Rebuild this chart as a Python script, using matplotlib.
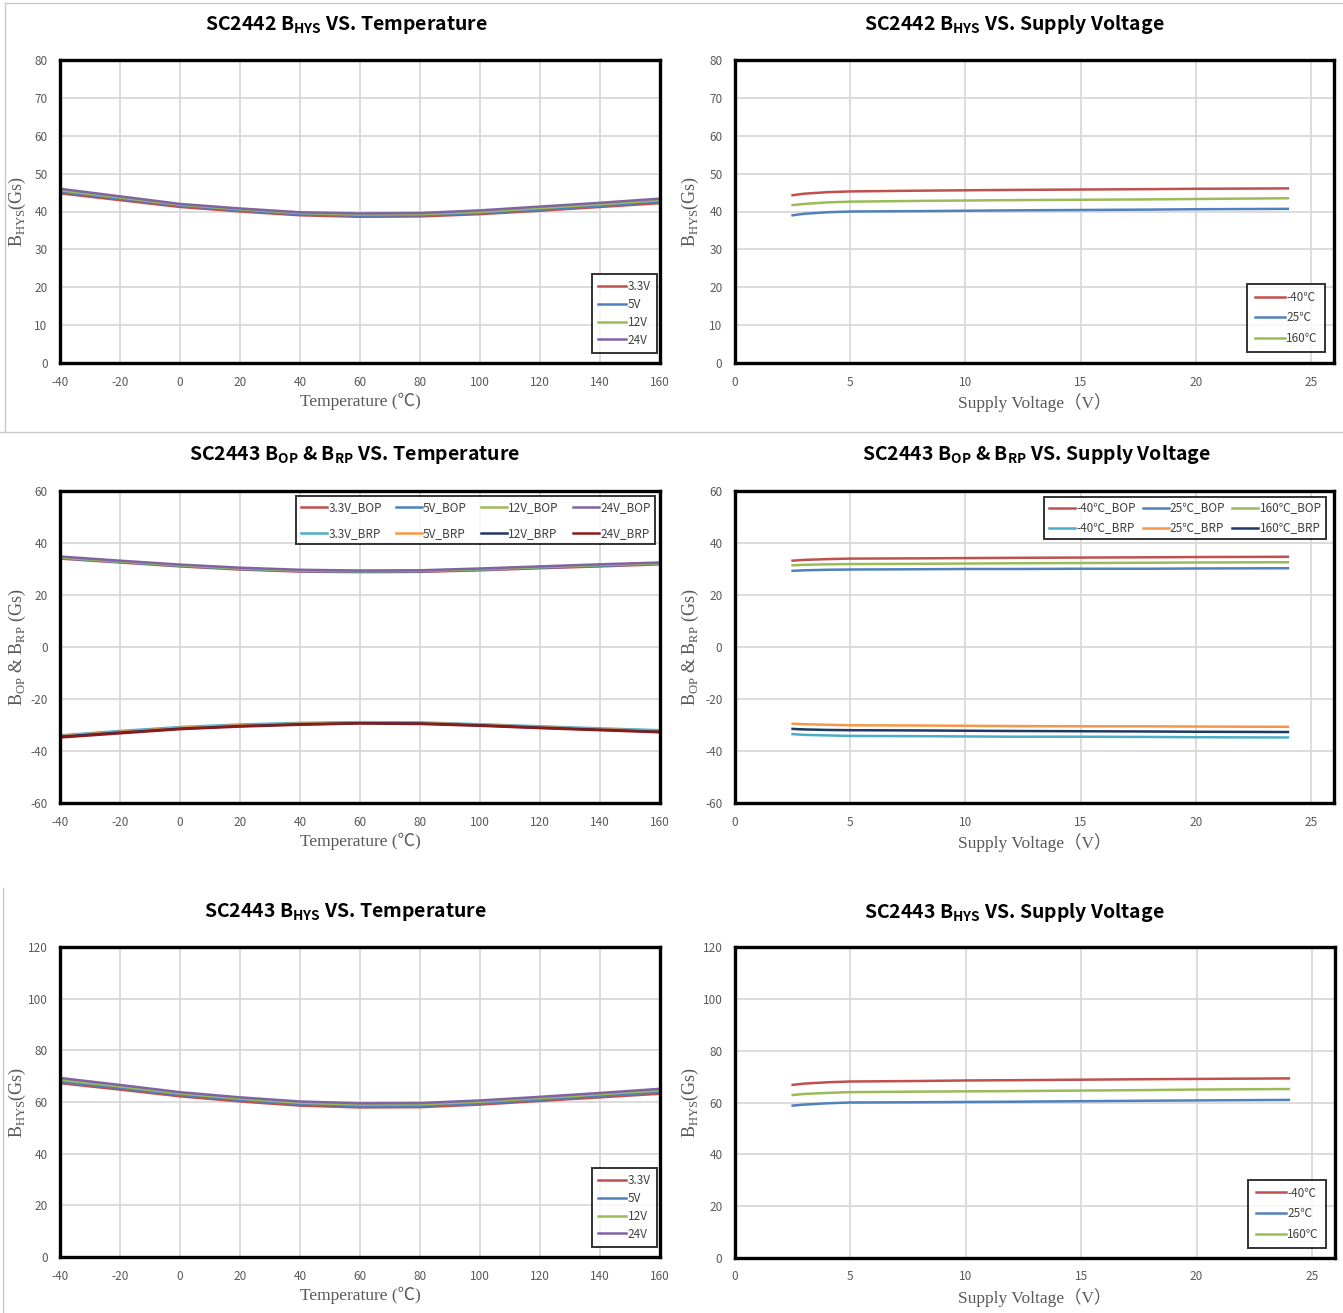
#!/usr/bin/env python3
"""
SC2442 / SC2443 magnetic characteristics - six panel datasheet figure
"""

import matplotlib
matplotlib.use('Agg')
import matplotlib.pyplot as plt
from matplotlib.lines import Line2D

# ---- data -------------------------------------------------------------
temps = [-40, -20, 0, 20, 40, 60, 80, 100, 120, 140, 160]
volts = [2.5, 3, 4, 5, 8, 10, 12, 15, 18, 20, 24]

# SC2442 BHYS vs temperature (Gs)
sc2442_hys_t_33v = [44.8, 43.0, 41.2, 40.0, 39.0, 38.6, 38.7, 39.3, 40.2, 41.2, 42.2]
sc2442_hys_t_5v = [45.2, 43.4, 41.6, 40.3, 39.3, 38.9, 39.0, 39.6, 40.5, 41.5, 42.6]
sc2442_hys_t_12v = [45.6, 43.7, 41.8, 40.6, 39.6, 39.2, 39.3, 39.9, 40.9, 41.9, 43.0]
sc2442_hys_t_24v = [46.0, 44.0, 42.0, 40.8, 39.8, 39.5, 39.6, 40.3, 41.3, 42.3, 43.4]

# SC2442 BHYS vs supply voltage (Gs)
sc2442_hys_v_m40 = [44.3, 44.7, 45.1, 45.3, 45.5, 45.6, 45.7, 45.8, 45.9, 46.0, 46.1]
sc2442_hys_v_25 = [39.0, 39.4, 39.8, 40.0, 40.1, 40.2, 40.3, 40.4, 40.5, 40.6, 40.7]
sc2442_hys_v_160 = [41.7, 42.0, 42.4, 42.6, 42.8, 42.9, 43.0, 43.1, 43.2, 43.3, 43.5]

# SC2443 BOP / BRP vs temperature (Gs)
sc2443_op_t_33v = [34.0, 32.5, 31.0, 29.8, 29.0, 28.8, 28.9, 29.5, 30.3, 31.0, 31.8]
sc2443_op_t_5v = [34.2, 32.7, 31.2, 30.0, 29.2, 29.0, 29.1, 29.7, 30.5, 31.2, 32.0]
sc2443_op_t_12v = [34.4, 32.9, 31.4, 30.2, 29.4, 29.2, 29.3, 29.9, 30.7, 31.5, 32.2]
sc2443_op_t_24v = [34.8, 33.2, 31.7, 30.5, 29.7, 29.4, 29.5, 30.2, 31.0, 31.8, 32.5]
sc2443_rp_t_33v = [-34.0, -32.3, -30.8, -29.8, -29.2, -28.9, -29.0, -29.7, -30.5, -31.3, -32.0]
sc2443_rp_t_5v = [-34.3, -32.6, -31.1, -30.1, -29.5, -29.1, -29.2, -29.9, -30.8, -31.6, -32.3]
sc2443_rp_t_12v = [-34.5, -32.9, -31.4, -30.4, -29.7, -29.3, -29.4, -30.1, -31.0, -31.8, -32.6]
sc2443_rp_t_24v = [-34.8, -33.2, -31.6, -30.6, -29.9, -29.4, -29.6, -30.3, -31.2, -32.0, -32.8]

# SC2443 BOP / BRP vs supply voltage (Gs)
sc2443_op_v_m40 = [33.2, 33.5, 33.8, 34.0, 34.1, 34.2, 34.3, 34.4, 34.5, 34.6, 34.7]
sc2443_op_v_25 = [29.3, 29.5, 29.7, 29.8, 29.9, 30.0, 30.0, 30.1, 30.1, 30.2, 30.3]
sc2443_op_v_160 = [31.4, 31.6, 31.8, 31.9, 32.0, 32.1, 32.2, 32.3, 32.4, 32.5, 32.6]
sc2443_rp_v_m40 = [-33.5, -33.8, -34.0, -34.2, -34.3, -34.4, -34.5, -34.5, -34.6, -34.7, -34.8]
sc2443_rp_v_25 = [-29.5, -29.7, -29.9, -30.1, -30.2, -30.3, -30.4, -30.5, -30.5, -30.6, -30.7]
sc2443_rp_v_160 = [-31.5, -31.7, -31.9, -32.0, -32.1, -32.2, -32.3, -32.4, -32.5, -32.6, -32.7]

# SC2443 BHYS vs temperature (Gs)
sc2443_hys_t_33v = [67.3, 64.8, 62.2, 60.2, 58.6, 57.9, 58.0, 59.0, 60.4, 61.8, 63.2]
sc2443_hys_t_5v = [67.9, 65.4, 62.8, 60.8, 59.2, 58.4, 58.5, 59.5, 60.9, 62.4, 63.8]
sc2443_hys_t_12v = [68.6, 66.0, 63.3, 61.3, 59.7, 59.0, 59.1, 60.1, 61.5, 63.0, 64.5]
sc2443_hys_t_24v = [69.3, 66.6, 63.8, 61.8, 60.2, 59.5, 59.6, 60.6, 62.0, 63.5, 65.1]

# SC2443 BHYS vs supply voltage (Gs)
sc2443_hys_v_m40 = [66.8, 67.3, 67.8, 68.1, 68.3, 68.5, 68.6, 68.8, 69.0, 69.1, 69.3]
sc2443_hys_v_25 = [58.8, 59.2, 59.7, 60.0, 60.1, 60.2, 60.3, 60.5, 60.7, 60.8, 61.0]
sc2443_hys_v_160 = [62.9, 63.3, 63.7, 64.0, 64.2, 64.3, 64.4, 64.6, 64.8, 65.0, 65.2]

volt_labels = ['3.3V', '5V', '12V', '24V']
temp_labels = ['-40\u2103', '25\u2103', '160\u2103']

# ---- style ------------------------------------------------------------
RED, BLUE, GREEN, PURPLE = '#C0504D', '#4F81BD', '#9BBB59', '#8064A2'
CYAN, ORANGE, NAVY, DARKRED = '#4BACC6', '#F79646', '#1F3864', '#8B1A1A'
GRID = '#D9D9D9'
TICK = '#595959'
NARROW = ['Noto Sans CJK SC', 'DejaVu Sans']
SERIF = ['Liberation Serif', 'Noto Sans CJK SC', 'DejaVu Serif']

plt.rcParams['axes.unicode_minus'] = False

W, H = 1343, 1313


def px_axes(fig, x0, y0, x1, y1):
    return fig.add_axes([x0 / W, 1 - y1 / H, (x1 - x0) / W, (y1 - y0) / H])


def style_axes(ax, xlim, ylim, xticks, yticks, xlabel, ylabel, ylab_x):
    ax.set_xlim(*xlim)
    ax.set_ylim(*ylim)
    ax.set_xticks(xticks)
    ax.set_yticks(yticks)
    ax.grid(True, color=GRID, lw=1.3)
    ax.set_axisbelow(True)
    for sp in ax.spines.values():
        sp.set_linewidth(2.4)
        sp.set_color('black')
    ax.tick_params(length=0, pad=9, labelcolor=TICK)
    for lab in ax.get_xticklabels() + ax.get_yticklabels():
        lab.set_family(NARROW)
        lab.set_fontsize(8.5)
    ax.set_xlabel(xlabel, family=SERIF, fontsize=12.5, color=TICK, labelpad=3)
    ax.set_ylabel(ylabel, family=SERIF, fontsize=13, color=TICK)
    ax.yaxis.set_label_coords(ylab_x, 0.5)


def add_legend(ax, handles, labels, loc, anchor, ncol=1, **kw):
    leg = ax.legend(handles, labels, loc=loc, bbox_to_anchor=anchor, ncol=ncol,
                    frameon=True, fancybox=False, borderaxespad=0,
                    prop={'family': NARROW, 'size': 8.5}, labelcolor='#404040',
                    handletextpad=0.1, **kw)
    leg.get_frame().set_edgecolor('black')
    leg.get_frame().set_linewidth(1.4)
    return leg


def title(fig, x, y, text):
    fig.text(x / W, 1 - y / H, text, ha='center', va='center', fontsize=14,
             fontweight='bold', family=NARROW)


fig = plt.figure(figsize=(W / 100, H / 100), dpi=100)

temp_xt = list(range(-40, 161, 20))
volt_xt = [0, 5, 10, 15, 20, 25]
ylab_hys = 'B$_{\\mathregular{HYS}}$(Gs)'
ylab_oprp = 'B$_{\\mathregular{OP}}$ & B$_{\\mathregular{RP}}$ (Gs)'
xlab_t = 'Temperature (\u2103)'
xlab_v = 'Supply Voltage\uff08V\uff09'
LEFT_YL = -0.054
RIGHT_YL = -0.056

# ---- row 1: SC2442 BHYS ----------------------------------------------
ax = px_axes(fig, 60, 60, 660, 363)
series = [sc2442_hys_t_33v, sc2442_hys_t_5v, sc2442_hys_t_12v, sc2442_hys_t_24v]
hs = [ax.plot(temps, s, color=c, lw=1.8)[0] for s, c in zip(series, [RED, BLUE, GREEN, PURPLE])]
style_axes(ax, (-40, 160), (0, 80), temp_xt, range(0, 81, 10), xlab_t, ylab_hys, LEFT_YL)
add_legend(ax, hs, volt_labels, 'lower right', (0.995, 0.033), labelspacing=0.4,
           handlelength=2.4, borderpad=0.55)
title(fig, 346, 25, 'SC2442 B$_{\\mathregular{HYS}}$ VS. Temperature')

ax = px_axes(fig, 735, 60, 1334, 363)
series = [sc2442_hys_v_m40, sc2442_hys_v_25, sc2442_hys_v_160]
hs = [ax.plot(volts, s, color=c, lw=1.8)[0] for s, c in zip(series, [RED, BLUE, GREEN])]
style_axes(ax, (0, 26), (0, 80), volt_xt, range(0, 81, 10), xlab_v, ylab_hys, RIGHT_YL)
add_legend(ax, hs, temp_labels, 'lower right', (0.985, 0.036), labelspacing=0.65,
           handlelength=2.6, borderpad=0.6)
title(fig, 1014, 25, 'SC2442 B$_{\\mathregular{HYS}}$ VS. Supply Voltage')

# ---- row 2: SC2443 BOP & BRP -------------------------------------------
ax = px_axes(fig, 60, 491, 660, 803)
op = [sc2443_op_t_33v, sc2443_op_t_5v, sc2443_op_t_12v, sc2443_op_t_24v]
rp = [sc2443_rp_t_33v, sc2443_rp_t_5v, sc2443_rp_t_12v, sc2443_rp_t_24v]
hs, ls = [], []
for s_op, s_rp, c_op, c_rp, v in zip(op, rp, [RED, BLUE, GREEN, PURPLE],
                                     [CYAN, ORANGE, NAVY, DARKRED], volt_labels):
    hs.append(ax.plot(temps, s_op, color=c_op, lw=1.8)[0])
    ls.append(v + '_BOP')
    hs.append(ax.plot(temps, s_rp, color=c_rp, lw=1.8)[0])
    ls.append(v + '_BRP')
style_axes(ax, (-40, 160), (-60, 60), temp_xt, range(-60, 61, 20), xlab_t, ylab_oprp, LEFT_YL)
add_legend(ax, hs, ls, 'upper right', (0.992, 0.984), ncol=4, labelspacing=1.1,
           columnspacing=1.2, handlelength=2.2)
title(fig, 355, 455, 'SC2443 B$_{\\mathregular{OP}}$ & B$_{\\mathregular{RP}}$ VS. Temperature')

ax = px_axes(fig, 735, 491, 1334, 803)
op = [sc2443_op_v_m40, sc2443_op_v_25, sc2443_op_v_160]
rp = [sc2443_rp_v_m40, sc2443_rp_v_25, sc2443_rp_v_160]
hs, ls = [], []
for s_op, s_rp, c_op, c_rp, t in zip(op, rp, [RED, BLUE, GREEN], [CYAN, ORANGE, NAVY],
                                     temp_labels):
    hs.append(ax.plot(volts, s_op, color=c_op, lw=1.8)[0])
    ls.append(t + '_BOP')
    hs.append(ax.plot(volts, s_rp, color=c_rp, lw=1.8)[0])
    ls.append(t + '_BRP')
style_axes(ax, (0, 26), (-60, 60), volt_xt, range(-60, 61, 20), xlab_v, ylab_oprp, RIGHT_YL)
add_legend(ax, hs, ls, 'upper right', (0.987, 0.981), ncol=3, labelspacing=0.6,
           columnspacing=0.6, handlelength=2.2)
title(fig, 1037, 455, 'SC2443 B$_{\\mathregular{OP}}$ & B$_{\\mathregular{RP}}$ VS. Supply Voltage')

# ---- row 3: SC2443 BHYS ----------------------------------------------
ax = px_axes(fig, 60, 947, 660, 1257)
series = [sc2443_hys_t_33v, sc2443_hys_t_5v, sc2443_hys_t_12v, sc2443_hys_t_24v]
hs = [ax.plot(temps, s, color=c, lw=1.8)[0] for s, c in zip(series, [RED, BLUE, GREEN, PURPLE])]
style_axes(ax, (-40, 160), (0, 120), temp_xt, range(0, 121, 20), xlab_t, ylab_hys, LEFT_YL)
add_legend(ax, hs, volt_labels, 'lower right', (0.995, 0.032), labelspacing=0.4,
           handlelength=2.4, borderpad=0.55)
title(fig, 345, 912, 'SC2443 B$_{\\mathregular{HYS}}$ VS. Temperature')

ax = px_axes(fig, 735, 947, 1335, 1258)
series = [sc2443_hys_v_m40, sc2443_hys_v_25, sc2443_hys_v_160]
hs = [ax.plot(volts, s, color=c, lw=1.8)[0] for s, c in zip(series, [RED, BLUE, GREEN])]
style_axes(ax, (0, 26), (0, 120), volt_xt, range(0, 121, 20), xlab_v, ylab_hys, RIGHT_YL)
add_legend(ax, hs, temp_labels, 'lower right', (0.985, 0.032), labelspacing=0.65,
           handlelength=2.6, borderpad=0.6)
title(fig, 1014, 912, 'SC2443 B$_{\\mathregular{HYS}}$ VS. Supply Voltage')

# thin separators between the pasted panels
sep = dict(color='#C8C8C8', lw=1.0, transform=fig.transFigure)
fig.add_artist(Line2D([5 / W, 1], [1 - 3 / H, 1 - 3 / H], **sep))
fig.add_artist(Line2D([0, 1], [1 - 432 / H, 1 - 432 / H], **sep))
fig.add_artist(Line2D([5 / W, 5 / W], [1 - 3 / H, 1 - 432 / H], **sep))
fig.add_artist(Line2D([3 / W, 3 / W], [1 - 888 / H, 0], **sep))

fig.savefig('out.png', dpi=100)
